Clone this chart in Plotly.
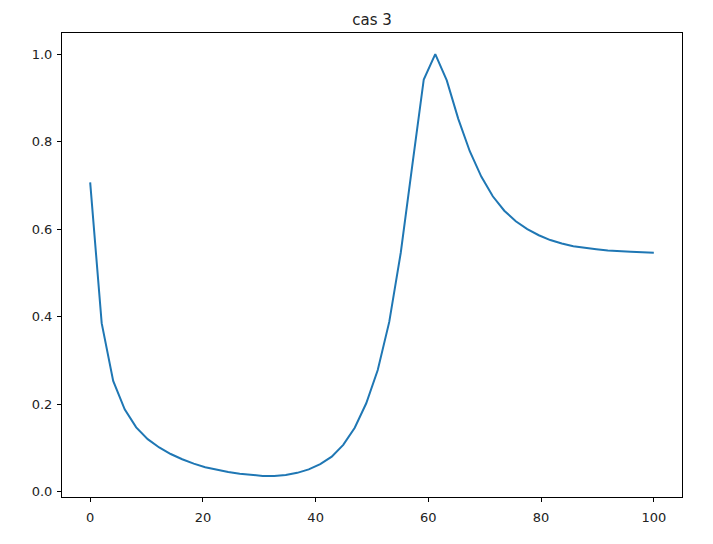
import plotly.graph_objects as go

x_values = [i * 100 / 49 for i in range(50)]
y_values = [0.707, 0.385, 0.253, 0.188, 0.147, 0.120, 0.101, 0.086, 0.074, 0.064,
            0.056, 0.050, 0.045, 0.041, 0.038, 0.036, 0.036, 0.038, 0.043, 0.051,
            0.063, 0.080, 0.107, 0.146, 0.202, 0.278, 0.388, 0.546, 0.745, 0.942,
            1.000, 0.940, 0.852, 0.778, 0.720, 0.675, 0.642, 0.618, 0.600, 0.586,
            0.575, 0.567, 0.561, 0.557, 0.554, 0.551, 0.549, 0.548, 0.547, 0.546]
x_ticks = [0, 20, 40, 60, 80, 100]
y_ticks = [0.0, 0.2, 0.4, 0.6, 0.8, 1.0]
title_text = "cas 3"

ymin, ymax = min(y_values), max(y_values)
span = ymax - ymin

fig = go.Figure(go.Scatter(x=x_values, y=y_values, mode="lines",
                           line=dict(color="#1f77b4", width=2)))

axis_common = dict(showline=True, linecolor="black", linewidth=1, mirror=True,
                   ticks="outside", ticklen=4, tickwidth=1, tickcolor="black",
                   showgrid=False, zeroline=False,
                   tickfont=dict(family="DejaVu Sans", size=13, color="#222"))

W, H = 705, 536
fig.update_layout(
    width=W, height=H,
    margin=dict(l=54, r=31, t=25, b=47),
    paper_bgcolor="white", plot_bgcolor="white",
    showlegend=False,
    title=dict(text=title_text, x=0.5, xref="paper", y=1 - 12 / H, yref="container",
               yanchor="middle", xanchor="center",
               font=dict(family="DejaVu Sans", size=15, color="#222")),
    xaxis=dict(range=[-5, 105], tickvals=x_ticks, ticklabelstandoff=4, **axis_common),
    yaxis=dict(range=[ymin - 0.05 * span, ymax + 0.05 * span], tickvals=y_ticks,
               tickformat=".1f", ticklabelstandoff=2, **axis_common),
)

fig.write_html("out.html")
